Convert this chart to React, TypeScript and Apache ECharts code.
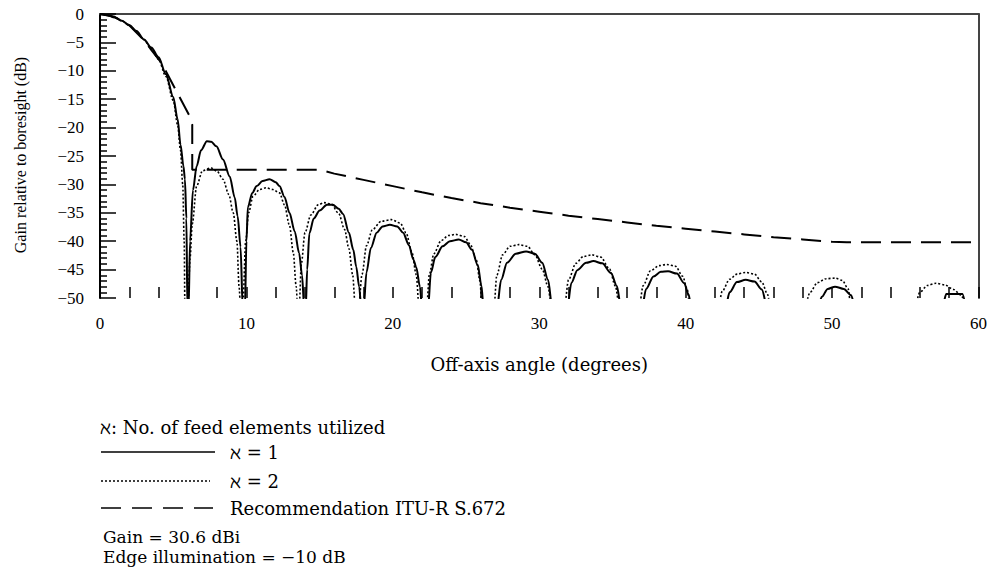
import React, { useEffect, useRef } from "react";
import * as echarts from "echarts";

// Off-axis angle range (degrees) and gain range (dB relative to boresight)
const xMin = 0;
const xMax = 60;
const xLabelStep = 10;
const xTickStep = 2;
const yMin = -50;
const yMax = 0;
const yLabelStep = 5;

// ℵ = 1 : one feed element
const feed1: [number, number][] = [
  [0, 0], [0.5, -0.2], [1, -0.6], [1.5, -1.2], [2, -2.0], [2.5, -3.0], [3, -4.5], [3.5, -5.9],
  [4, -7.6], [4.5, -10.6], [5, -14.6], [5.3, -18.5], [5.5, -23], [5.7, -26.8], [5.8, -29.1], [5.9, -36], [5.97, -52],
  [6.05, -52], [6.15, -40], [6.35, -31], [6.6, -26.8], [6.9, -24], [7.3, -22.4], [7.6, -22.5], [7.95, -23.3],
  [8.4, -25.6], [8.86, -28.6], [9.2, -32.3], [9.4, -35.6], [9.6, -41], [9.75, -52],
  [9.9, -52], [10.0, -40], [10.1, -34], [10.4, -31.5], [10.7, -30.3], [11.1, -29.4], [11.58, -29.1], [12.0, -29.6],
  [12.26, -30.3], [12.6, -32.2], [12.94, -35], [13.3, -38.3], [13.6, -42.1], [13.8, -46], [13.95, -52],
  [14.05, -52], [14.15, -45], [14.3, -38.6], [14.6, -36], [15.0, -34.6], [15.5, -33.6], [15.9, -33.6], [16.3, -34.3],
  [16.6, -35.2], [17.0, -38.5], [17.3, -41.5], [17.5, -44.5], [17.7, -48], [17.85, -52],
  [18.0, -52], [18.2, -45.5], [18.5, -41.2], [18.9, -38.5], [19.3, -37.4], [19.8, -37.1], [20.3, -37.4], [20.7, -38.5],
  [21.1, -40.7], [21.4, -43.2], [21.6, -44.6], [21.85, -48], [22.0, -52],
  [22.4, -52], [22.6, -45.5], [22.9, -42.8], [23.4, -40.9], [23.9, -40.0], [24.5, -39.7], [25.0, -40.2], [25.4, -41.5],
  [25.8, -44.2], [26.05, -47.8], [26.2, -52],
  [27.1, -52], [27.4, -46.8], [27.8, -43.8], [28.4, -42.2], [29.1, -41.8], [29.7, -42.2], [30.2, -43.8], [30.6, -46.8], [30.9, -52],
  [31.9, -52], [32.2, -47.3], [32.6, -45.1], [33.2, -43.8], [33.7, -43.5], [34.3, -43.9], [34.9, -45.6], [35.3, -47.9], [35.6, -52],
  [37.0, -52], [37.3, -48.4], [37.8, -46.2], [38.3, -45.4], [38.8, -45.3], [39.4, -45.7], [39.9, -47.4], [40.2, -49.4], [40.4, -52],
  [42.7, -52], [43.0, -49], [43.5, -47.2], [44.1, -46.8], [44.7, -47.1], [45.2, -48.5], [45.6, -52],
  [49.0, -52], [49.3, -49.8], [49.7, -48.4], [50.2, -48.0], [50.8, -48.4], [51.3, -49.5], [51.6, -52],
  [57.5, -52], [57.8, -49.3], [58.9, -49.3], [59.15, -52],
];

// ℵ = 2 : two feed elements
const feed2: [number, number][] = [
  [0, 0], [0.5, -0.2], [1, -0.6], [1.5, -1.2], [2, -2.0], [2.5, -3.1], [3, -4.5], [3.5, -6.1],
  [4, -8.0], [4.5, -11.0], [5, -15.2], [5.3, -19.5], [5.5, -24], [5.65, -30], [5.75, -40], [5.8, -52],
  [6.0, -52], [6.15, -43], [6.3, -37], [6.6, -30.3], [7.0, -27.6], [7.6, -27.1], [8.0, -27.7], [8.4, -29.1],
  [8.8, -31.8], [9.1, -35], [9.35, -40], [9.5, -48], [9.6, -52],
  [9.75, -52], [9.95, -40], [10.15, -35], [10.45, -32.1], [10.9, -30.9], [11.35, -30.6], [11.8, -30.9], [12.26, -31.5],
  [12.6, -33.6], [12.94, -37.2], [13.2, -42], [13.4, -48], [13.5, -52],
  [13.6, -52], [13.75, -44], [14.0, -38.5], [14.4, -35.4], [14.9, -33.6], [15.3, -33.2], [15.8, -33.5], [16.3, -35.1],
  [16.7, -37.9], [17.0, -41.3], [17.25, -45.8], [17.45, -52],
  [17.65, -52], [17.9, -45.8], [18.2, -40.8], [18.6, -38.0], [19.2, -36.5], [19.9, -36.2], [20.5, -36.8], [20.9, -38.5],
  [21.3, -41.9], [21.6, -45.9], [21.8, -52],
  [22.3, -52], [22.5, -45.8], [22.8, -42.2], [23.3, -39.9], [23.8, -39.0], [24.3, -38.8], [24.9, -39.2], [25.3, -40.6],
  [25.7, -43.3], [25.95, -47], [26.1, -52],
  [26.9, -52], [27.1, -46], [27.5, -42.4], [28.0, -40.9], [28.6, -40.6], [29.2, -40.9], [29.7, -42.4], [30.2, -44.9], [30.6, -48], [30.85, -52],
  [31.7, -52], [32.0, -46.8], [32.5, -43.9], [33.0, -42.7], [33.6, -42.4], [34.2, -42.8], [34.8, -44.9], [35.2, -47.9], [35.5, -52],
  [36.8, -52], [37.1, -47.8], [37.6, -45.2], [38.2, -44.3], [38.7, -44.1], [39.3, -44.4], [39.8, -46.2], [40.1, -48.4], [40.3, -52],
  [42.2, -52], [42.5, -48.8], [43.0, -46.7], [43.5, -45.8], [44.1, -45.5], [44.7, -45.8], [45.2, -47.2], [45.6, -49.4], [45.8, -52],
  [48.1, -52], [48.5, -49], [49.0, -47.3], [49.6, -46.6], [50.2, -46.5], [50.7, -46.9], [51.1, -48.4], [51.3, -52],
  [55.6, -52], [56.0, -49], [56.5, -47.8], [57.1, -47.4], [57.7, -47.7], [58.3, -48.5], [58.8, -49.5], [59.2, -52],
];

// Recommendation ITU-R S.672 reference pattern
const itu672: [number, number][] = [
  [0, 0], [1, -0.5], [2, -2.0], [3, -4.6], [3.5, -6.3], [4.2, -8.6], [4.77, -11.4], [5.45, -14.7],
  [6.13, -18.0], [6.3, -19.5], [6.3, -27.4], [15, -27.4], [16, -28.1], [18, -29.2], [20, -30.3],
  [22, -31.4], [24, -32.4], [26, -33.3], [28, -34.1], [30, -34.8], [32, -35.5], [34, -36.1],
  [36, -36.7], [38, -37.3], [40, -37.8], [42, -38.3], [44, -38.8], [46, -39.3], [48, -39.7],
  [50, -40.1], [51, -40.2], [60, -40.2],
];

const seriesNames = ["ℵ = 1", "ℵ = 2", "Recommendation ITU-R S.672"];
const legendTitle = "ℵ: No. of feed elements utilized";
const notes = ["Gain = 30.6 dBi", "Edge illumination = −10 dB"];
const xTitle = "Off-axis angle (degrees)";
const yTitle = "Gain relative to boresight (dB)";

const TEXT_FONT = '"DejaVu Serif", serif';
const TICK_FONT = '"Liberation Serif", serif';

const fmtMinus = (v: number) => (v < 0 ? "−" + Math.abs(v) : String(v));

export default function App() {
  const ref = useRef<HTMLDivElement>(null);

  useEffect(() => {
    if (!ref.current) return;
    const chart = echarts.init(ref.current, null, { renderer: "svg" });

    const legendText = (text: string, x: number, y: number, size = 18) => ({
      type: "text",
      x,
      y,
      style: {
        text,
        fill: "#000",
        fontFamily: TEXT_FONT,
        fontSize: size,
        align: "left",
        verticalAlign: "middle",
      },
    });

    const option: any = {
      animation: false,
      backgroundColor: "#fff",
      grid: { left: 100, right: 9, top: 14, bottom: 272, containLabel: false },
      xAxis: [
        {
          type: "value",
          min: xMin,
          max: xMax,
          interval: xLabelStep,
          position: "bottom",
          axisLine: { show: false, onZero: false },
          axisTick: { show: true, inside: true, length: 11, lineStyle: { color: "#000", width: 1.5 } },
          minorTick: { show: true, splitNumber: xLabelStep / xTickStep, length: 11, lineStyle: { color: "#000", width: 1.5 } },
          splitLine: { show: false },
          axisLabel: {
            margin: 17,
            color: "#000",
            fontFamily: TICK_FONT,
            fontSize: 17,
          },
          name: xTitle,
          nameLocation: "middle",
          nameGap: 57,
          nameTextStyle: { color: "#000", fontFamily: TEXT_FONT, fontSize: 18 },
        },
        {
          type: "value",
          min: xMin,
          max: xMax,
          position: "top",
          axisLine: { show: true, onZero: false, lineStyle: { color: "#444", width: 2 } },
          axisTick: { show: false },
          axisLabel: { show: false },
          splitLine: { show: false },
        },
      ],
      yAxis: [
        {
          type: "value",
          min: yMin,
          max: yMax,
          interval: yLabelStep,
          position: "left",
          axisLine: { show: true, onZero: false, lineStyle: { color: "#000", width: 2 } },
          axisTick: { show: true, inside: true, length: 16, lineStyle: { color: "#000", width: 1.5 } },
          minorTick: { show: true, splitNumber: 5, length: 7, lineStyle: { color: "#000", width: 1.5 } },
          splitLine: { show: false },
          axisLabel: {
            margin: 16,
            color: "#000",
            fontFamily: TICK_FONT,
            fontSize: 17,
            formatter: fmtMinus,
          },
        },
        {
          type: "value",
          min: yMin,
          max: yMax,
          position: "right",
          axisLine: { show: true, onZero: false, lineStyle: { color: "#444", width: 2 } },
          axisTick: { show: false },
          axisLabel: { show: false },
          splitLine: { show: false },
        },
      ],
      series: [
        {
          name: seriesNames[0],
          type: "line",
          data: feed1,
          showSymbol: false,
          smooth: 0.3,
          smoothMonotone: "x",
          clip: true,
          lineStyle: { color: "#000", width: 2, type: "solid" },
        },
        {
          name: seriesNames[1],
          type: "line",
          data: feed2,
          showSymbol: false,
          smooth: 0.3,
          smoothMonotone: "x",
          clip: true,
          lineStyle: { color: "#000", width: 1.6, type: [2, 2] },
        },
        {
          name: seriesNames[2],
          type: "line",
          data: itu672,
          showSymbol: false,
          clip: true,
          lineStyle: { color: "#000", width: 2, type: [20, 10] },
        },
      ],
      graphic: [
        {
          type: "text",
          x: 20,
          y: 155,
          rotation: Math.PI / 2,
          style: {
            text: yTitle,
            fill: "#000",
            fontFamily: TICK_FONT,
            fontSize: 16,
            align: "center",
            verticalAlign: "middle",
          },
        },
        legendText(legendTitle, 100, 427),
        {
          type: "line",
          shape: { x1: 101, y1: 452, x2: 215, y2: 452 },
          style: { stroke: "#000", lineWidth: 1.6 },
        },
        legendText(seriesNames[0], 230, 452),
        {
          type: "line",
          shape: { x1: 101, y1: 481, x2: 210, y2: 481 },
          style: { stroke: "#000", lineWidth: 1.4, lineDash: [2, 2] },
        },
        legendText(seriesNames[1], 230, 481),
        {
          type: "line",
          shape: { x1: 101, y1: 508, x2: 213, y2: 508 },
          style: { stroke: "#000", lineWidth: 1.6, lineDash: [20, 11] },
        },
        legendText(seriesNames[2], 230, 508),
        legendText(notes[0], 103, 537, 17),
        legendText(notes[1], 103, 557, 17),
      ],
    };

    chart.setOption(option);
    return () => chart.dispose();
  }, []);

  return (
    <div
      ref={ref}
      style={{ position: "fixed", left: 0, top: 0, width: 990, height: 570, background: "#fff" }}
    />
  );
}
